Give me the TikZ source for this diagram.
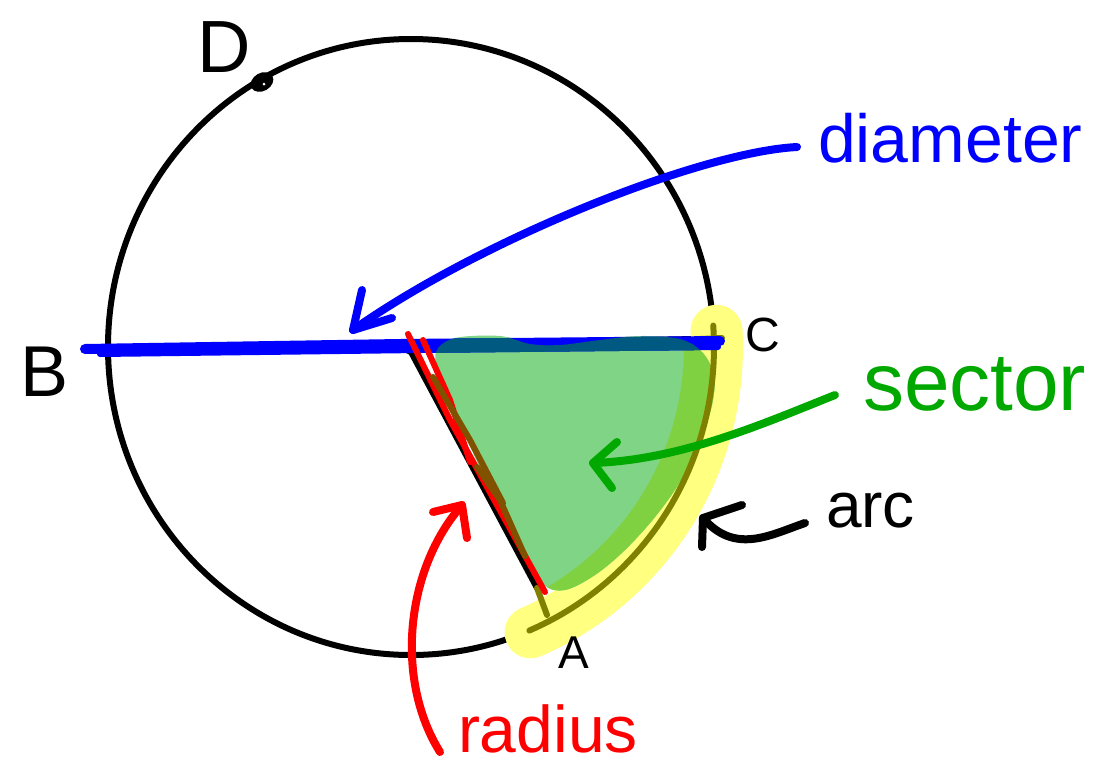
\documentclass[tikz,border=0pt]{standalone}
\usepackage{fontspec}
\setmainfont{Liberation Sans}
\definecolor{lgreen}{rgb}{0.50,0.83,0.52}
\definecolor{dgreen}{rgb}{0.50,0.82,0.26}
\definecolor{hyellow}{rgb}{1,1,0.50}
\definecolor{olive2}{rgb}{0.50,0.50,0.0}
\definecolor{brown2}{rgb}{0.50,0.32,0.0}
\definecolor{teal2}{rgb}{0.0,0.35,0.50}
\definecolor{tgreen}{rgb}{0.0,0.66,0.0}
\begin{document}
\begin{tikzpicture}[x=1pt,y=-1pt,line cap=round,line join=round,
  circ/.style={line width=6pt,black},
  pen/.style={line width=8pt},
  lbl/.style={inner sep=0pt,outer sep=0pt},
  hilite/.style={line width=52pt,hyellow}]
\useasboundingbox[fill=white] (0,0) rectangle (1114,772);
% key points
\coordinate (O) at (411,347);
\coordinate (Cpt) at (714,341);
\coordinate (Apt) at (537,622);
\coordinate (Dpt) at (262,82);
% circle
\draw[circ] (O) ellipse [x radius=303, y radius=308];
% black line under diameter and radius
\draw[line width=5pt] (400,344) -- (722,338);
\draw[line width=6pt] (398,346) -- (411,352) -- (537,588);
% yellow highlight on arc
\draw[hilite] plot[domain=-3:67,samples=50] ({411+306*cos(\x)},{347+310*sin(\x)});
% green sector
\fill[lgreen] plot[smooth cycle,tension=0.55] coordinates {(436,352) (455,338) (500,336) (530,344) (560,345) (600,340) (640,336) (680,339) (702,352) (714,375) (712,405) (700,442) (680,482) (655,517) (625,550) (595,575) (565,590) (543,584) (520,548) (496,500) (474,455) (455,410) (440,378)};
\begin{scope}
\clip plot[smooth cycle,tension=0.55] coordinates {(436,352) (455,338) (500,336) (530,344) (560,345) (600,340) (640,336) (680,339) (702,352) (714,375) (712,405) (700,442) (680,482) (655,517) (625,550) (595,575) (565,590) (543,584) (520,548) (496,500) (474,455) (455,410) (440,378)};
\draw[line width=62pt,dgreen] plot[domain=-3:67,samples=50] ({411+304*cos(\x)},{347+308*sin(\x)});
\end{scope}
% arc redrawn under highlighter
\draw[line width=6pt,olive2] plot[domain=-4:67,samples=50] ({411+303*cos(\x)},{347+308*sin(\x)});
\draw[line width=6pt,olive2] (537,588) -- (547,615);
\draw[line width=6pt,olive2] (700,339) -- (722,338);
% blue diameter
\draw[blue,line width=10pt] (85,349) -- (400,344) -- (720,341);
\draw[blue,line width=6pt] (100,354) -- (420,350) -- (718,347);
\begin{scope}
\clip plot[smooth cycle,tension=0.55] coordinates {(436,352) (455,338) (500,336) (530,344) (560,345) (600,340) (640,336) (680,339) (702,352) (714,375) (712,405) (700,442) (680,482) (655,517) (625,550) (595,575) (565,590) (543,584) (520,548) (496,500) (474,455) (455,410) (440,378)};
\draw[teal2,line width=10pt] (85,349) -- (400,344) -- (720,341);
\draw[teal2,line width=6pt] (100,354) -- (420,350) -- (718,347);
\end{scope}
% red and brown radius strokes
\draw[red,line width=6pt] (408,334) -- (450,420) -- (545,592);
\draw[red,line width=6pt] (423,340) -- (450,400) -- (470,462);
\draw[brown2,line width=6pt] (433,377) -- (470,440) -- (503,503);
\draw[brown2,line width=6pt] (477,467) -- (500,500) -- (525,556);
% point D
\fill[black,rotate around={30:(Dpt)}] (Dpt) ellipse [x radius=12, y radius=9];
\fill[white] (264,84) circle (1.5);
% labels
\node[lbl,anchor=base west] (lD) at (197,72) {\fontsize{74}{80}\selectfont D};
\node[lbl,anchor=base west] (lB) at (20,396) {\fontsize{72}{80}\selectfont B};
\node[lbl,anchor=base west] (lC) at (745,351) {\fontsize{48}{50}\selectfont C};
\node[lbl,anchor=base west] (lA) at (558,668) {\fontsize{46}{50}\selectfont A};
\node[lbl,anchor=base west,blue] (ldiam) at (818,162) {\fontsize{68}{70}\selectfont diameter};
\node[lbl,anchor=base west,tgreen] (lsec) at (863,410) {\fontsize{82}{84}\selectfont sector};
\node[lbl,anchor=base west] (larc) at (826,527) {\fontsize{64}{66}\selectfont arc};
\node[lbl,anchor=base west,red] (lrad) at (458,752) {\fontsize{66}{68}\selectfont radius};
% arrow ends
\coordinate (dstart) at (797,147);
\coordinate (dtip) at (353,330);
\coordinate (sstart) at (835,395);
\coordinate (stip) at (593,463);
\coordinate (astart) at (805,523);
\coordinate (atip) at (703,518);
\coordinate (rstart) at (440,752);
\coordinate (rtip) at (462,505);
% arrows
\draw[pen,blue] (dstart) .. controls (700,152) and (480,240) .. (dtip);
\draw[pen,blue] (362,290) -- (dtip) -- (392,318);
\draw[pen,tgreen] (sstart) .. controls (760,425) and (680,460) .. (stip);
\draw[pen,tgreen] (617,442) -- (stip) -- (612,488);
\draw[pen,black] (astart) .. controls (770,535) and (735,555) .. (atip);
\draw[pen,black] (742,505) -- (atip) -- (702,547);
\draw[pen,red] (rstart) .. controls (395,680) and (405,570) .. (rtip);
\draw[pen,red] (433,512) -- (rtip) -- (467,538);
\end{tikzpicture}
\end{document}
